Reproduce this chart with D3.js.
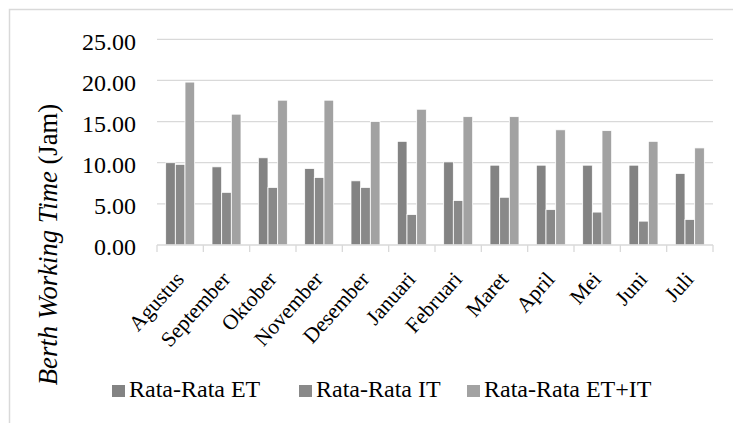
<!DOCTYPE html>
<html>
<head>
<meta charset="utf-8">
<script src="https://cdn.jsdelivr.net/npm/d3@7"></script>
<style>
  html, body { margin: 0; padding: 0; background: #fff; }
  svg { display: block; }
  text { font-family: "Liberation Serif", "Times New Roman", serif; fill: #000; }
</style>
</head>
<body>
<svg id="chart" width="733" height="423"></svg>
<script>
const months = ["Agustus","September","Oktober","November","Desember","Januari","Februari","Maret","April","Mei","Juni","Juli"];
const seriesNames = ["Rata-Rata ET","Rata-Rata IT","Rata-Rata ET+IT"];
const rataET   = [10.0, 9.5, 10.6, 9.3, 7.8, 12.6, 10.1, 9.7, 9.7, 9.7, 9.7, 8.7];
const rataIT   = [9.8, 6.4, 7.0, 8.2, 7.0, 3.7, 5.4, 5.8, 4.3, 4.0, 2.9, 3.1];
const rataSum  = [19.8, 15.9, 17.6, 17.6, 15.0, 16.5, 15.6, 15.6, 14.0, 13.9, 12.6, 11.8];
const yTicks   = [0, 5, 10, 15, 20, 25];
const colors   = ["#838383", "#898989", "#a2a2a2"];

const seriesValues = [rataET, rataIT, rataSum];
const svg = d3.select("#chart");

// outer frame (cropped by the window on right and bottom)
svg.append("rect")
  .attr("x", 9.5).attr("y", 9.5).attr("width", 760).attr("height", 460)
  .attr("fill", "none").attr("stroke", "#d9d9d9").attr("stroke-width", 1.5);

const plotL = 157, plotR = 713, plotT = 39.3, plotB = 245;

const y = d3.scaleLinear().domain([0, 25]).range([plotB, plotT]);
const x0 = d3.scaleBand().domain(months).range([plotL, plotR]).paddingInner(0).paddingOuter(0);
const groupW = 29;
const x1 = d3.scaleBand().domain(seriesNames).range([0, groupW]);

// gridlines
svg.append("g").selectAll("line").data(yTicks.filter(d => d > 0)).join("line")
  .attr("x1", plotL).attr("x2", plotR)
  .attr("y1", d => y(d)).attr("y2", d => y(d))
  .attr("stroke", "#d9d9d9").attr("stroke-width", 1.3);

// y tick labels
svg.append("g").selectAll("text").data(yTicks).join("text")
  .attr("x", 136).attr("y", d => y(d) + 2)
  .attr("dy", "0.35em")
  .attr("text-anchor", "end")
  .attr("font-size", 24)
  .text(d => d3.format(".2f")(d));

// bars
const gGroups = svg.append("g").selectAll("g").data(months).join("g")
  .attr("transform", d => `translate(${x0(d) + (x0.bandwidth() - groupW) / 2},0)`);
gGroups.selectAll("rect").data((m, i) => seriesNames.map((s, j) => ({s, j, v: seriesValues[j][i]}))).join("rect")
  .attr("x", d => x1(d.s))
  .attr("width", x1.bandwidth())
  .attr("y", d => y(d.v))
  .attr("height", d => y(0) - y(d.v))
  .attr("fill", d => colors[d.j])
  .attr("stroke", "#fff").attr("stroke-width", 0.8);

// x axis
const xAxis = svg.append("g");
xAxis.append("line").attr("x1", plotL).attr("x2", plotR).attr("y1", plotB).attr("y2", plotB)
  .attr("stroke", "#d9d9d9").attr("stroke-width", 1.3);
const boundaries = months.map(m => x0(m)).concat([x0(months[months.length - 1]) + x0.step()]);
xAxis.selectAll("line.tick").data(boundaries).join("line").attr("class", "tick")
  .attr("x1", d => d).attr("x2", d => d).attr("y1", plotB).attr("y2", plotB + 7)
  .attr("stroke", "#d9d9d9").attr("stroke-width", 1.3);

// month labels
xAxis.selectAll("text").data(months).join("text")
  .attr("transform", d => `translate(${x0(d) + x0.bandwidth() / 2 + 5},${plotB + 35}) rotate(-48)`)
  .attr("text-anchor", "end")
  .attr("font-size", 21.5)
  .text(d => d);

// y axis title
const title = svg.append("text")
  .attr("transform", `translate(57,244.5) rotate(-90)`)
  .attr("text-anchor", "middle")
  .attr("font-size", 26.7);
title.append("tspan").attr("font-style", "italic").text("Berth Working Time ");
title.append("tspan").text("(Jam)");

// legend
const legendX = [112, 299, 467];
const legend = svg.append("g").selectAll("g").data(seriesNames).join("g")
  .attr("transform", (d, i) => `translate(${legendX[i]},397)`);
legend.append("rect").attr("x", 0).attr("y", -12).attr("width", 13).attr("height", 12)
  .attr("fill", (d, i) => colors[i]);
legend.append("text").attr("x", 17).attr("y", 0).attr("font-size", 24).text(d => d);
</script>
</body>
</html>
